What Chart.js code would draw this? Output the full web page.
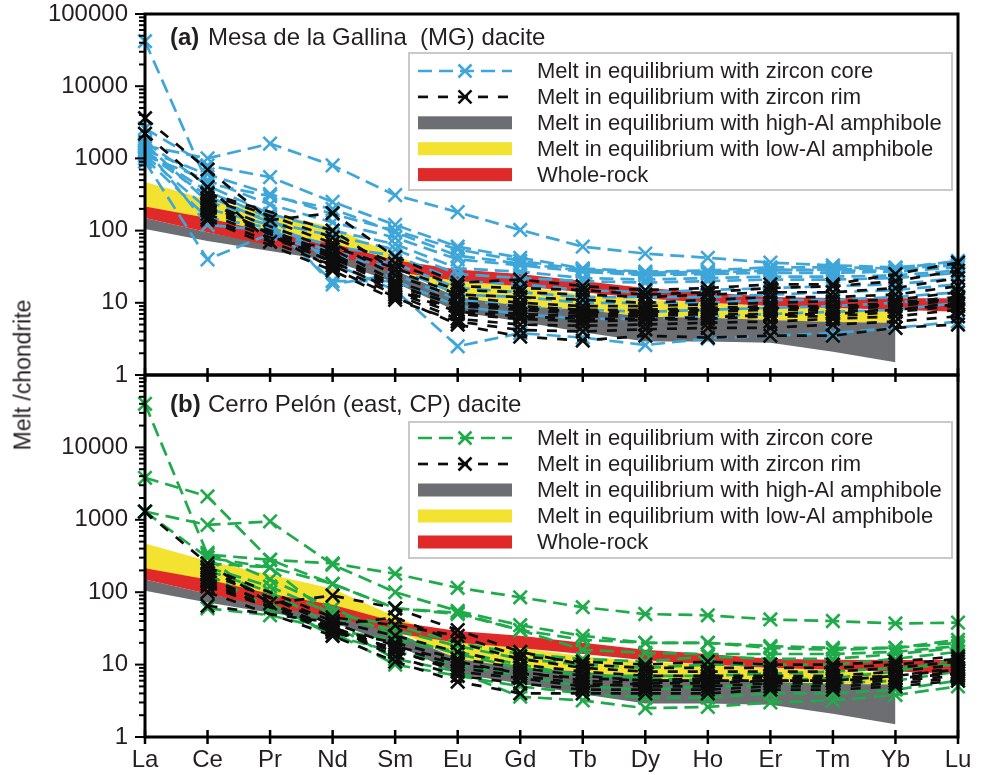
<!DOCTYPE html>
<html>
<head>
<meta charset="utf-8">
<script src="https://cdn.jsdelivr.net/npm/chart.js@4.4.1/dist/chart.umd.min.js"></script>
<style>
  body { margin: 0; background: #fff; }
  #wrap { position: relative; width: 981px; height: 775px; overflow: hidden; }
  #wrap canvas { position: absolute; left: 0; }
  #ytitle {
    position: absolute; left: 23px; top: 375px;
    transform: translate(-50%, -50%) rotate(-90deg);
    font: 23px "Liberation Sans", Arial, sans-serif; color: #231f20; white-space: nowrap;
  }
</style>
</head>
<body>
<div id="wrap">
  <canvas id="chartA" width="981" height="392" style="top:0"></canvas>
  <canvas id="chartB" width="981" height="415" style="top:360px"></canvas>
  <div id="ytitle">Melt /chondrite</div>
</div>
<script>
// REE order along the x axis
const elements = ['La', 'Ce', 'Pr', 'Nd', 'Sm', 'Eu', 'Gd', 'Tb', 'Dy', 'Ho', 'Er', 'Tm', 'Yb', 'Lu'];
const decadeLabelsA = ['1', '10', '100', '1000', '10000', '100000'];
const decadeLabelsB = ['1', '10', '100', '1000', '10000'];

// amphibole / whole-rock envelopes (lower and upper edges)
const grayLo   = [105, 72, 52, 38, 19, 7.5, 5.5, 3.9, 2.9, 2.9, 2.8, 2.1, 1.5, null];
const grayHi   = [150, 95, 65, 47, 28, 12, 9, 8, 6.4, 6.2, 5.8, 5.4, 5.3, null];
const yellowLo = [200, 140, 95, 66, 30, 12, 9, 8, 6.4, 6.2, 5.8, 5.4, 5.3, null];
const yellowHi = [470, 270, 175, 112, 46, 20, 17, 13, 11, 10, 8.8, 8.5, 7.5, null];
const redLo    = [150, 95, 62, 46, 27, 20, 17, 14, 11.5, 10, 9, 8.5, 8, 7.5];
const redHi    = [215, 150, 95, 67, 39, 29, 25, 20, 16, 14, 12, 11.7, 11.6, 11.6];

// (a) MG: melts from zircon cores
const coreA = [
  [42000, 450, 300, 200, 95, 45, 35, 28, 25, 26, 28, 29, 30, 33],
  [1500, 1000, 1600, 800, 310, 180, 102, 60, 48, 42, 36, 33, 31, 36],
  [2600, 800, 550, 250, 120, 60, 42, 30, 27, 28, 31, 31, 30, 38],
  [1300, 600, 320, 170, 100, 55, 38, 29, 26, 27, 29, 28, 28, 34],
  [1100, 500, 230, 130, 80, 40, 33, 27, 24, 25, 26, 26, 27, 31],
  [1700, 420, 170, 100, 65, 30, 27, 22, 21, 22, 23, 23, 24, 28],
  [1200, 300, 130, 85, 55, 25, 22, 20, 19, 20, 21, 21, 22, 26],
  [1000, 150, 110, 60, 45, 20, 18, 15, 14, 15, 16, 17, 18, 22],
  [1400, 120, 100, 50, 35, 16, 14, 12, 12, 12, 13, 14, 15, 18],
  [900, 40, 90, 45, 31, 13, 12, 10, 10, 10, 11, 11, 12, 14],
  [1600, 250, 140, 18, 25, 11, 9, 8, 7.5, 8, 8.5, 9, 10, 12],
  [1100, 200, 120, 20, 20, 9, 7, 6, 6, 6.5, 7, 7.5, 8, 10],
  [1250, 350, 150, 35, 15, 2.5, 3.8, 3.3, 2.6, 3.2, 3.5, 3.8, 4.5, 5.5]
];
// (a) MG: melts from zircon rims
const rimA = [
  [3600, 700, 140, 175, 43, 19, 21, 17, 15, 16, 18, 18, 25, 36],
  [2200, 400, 70, 60, 30, 15, 14, 13, 12, 13, 14, 14, 16, 22],
  [null, 330, null, 100, 28, 13, 12, 11, 10, 11, 12, 12, 13, 17],
  [null, 280, null, 67, 24, 12, 10, 9, 9, 9.5, 10, 10.5, 11, 14],
  [null, 240, null, 55, 20, 10, 9, 8, 8, 8.5, 9, 9, 10, 12],
  [null, 210, null, 48, 18, 9, 8, 7, 7, 7.5, 8, 8, 9, 11],
  [null, 190, null, 42, 16, 8, 7, 6.5, 6.5, 7, 7, 7.5, 8, 10],
  [null, 170, null, 38, 14, 7, 6, 5.5, 5.8, 6, 6.5, 6.5, 7.5, 9],
  [null, 150, null, 33, 13, 6, 5, 4.8, 5, 5.3, 5.5, 6, 6.5, 8],
  [null, 140, null, 28, 11, 5.5, 4.2, 4, 4.3, 4.5, 4.5, 5, 5.5, 6.5],
  [null, 260, null, 30, 12, 5, 3.4, 3, 3.5, 3.3, 3.5, 3.5, 4.5, 5],
  [null, 320, null, 80, 35, 17, 16, 15, 13, 14, 16, 17, 20, 28],
  [null, 230, null, 36, 15, 7.5, 6.5, 6, 6, 6.3, 6.8, 7, 8, 9.5],
  [null, 200, null, 45, 17, 9.5, 8.5, 7.5, 7.5, 8, 8.5, 8.5, 9.5, 11.5]
];

// (b) CP: melts from zircon cores
const coreB = [
  [40000, 330, 280, 130, 60, 50, 30, 22, 20, 20, 17, 16, 17, 22],
  [3800, 2100, 280, 250, 180, 115, 85, 62, 50, 48, 42, 40, 37, 38],
  [1300, 850, 950, 240, 100, 55, 35, 25, 20, 20, 18, 17, 17, 20],
  [1300, 300, 220, 130, 60, 52, 30, 16, 14.5, 14, 14, 14, 15, 18],
  [null, 250, 220, 45, 30, 18, 12, 10, 9, 10, 10, 10, 12, 15],
  [null, 60, 48, 30, 22, 15, 10, 7, 7, 7, 7.5, 8, 9, 10],
  [null, 300, 70, 25, 15, 10, 7, 5, 4.5, 5, 5, 5.5, 6, 8],
  [null, 200, 100, 35, 12, 8, 3.6, 3.2, 2.5, 2.6, 3, 3.2, 3.8, 5],
  [null, 180, 60, 28, 10, 7, 5, 4, 3.5, 3.5, 4, 4, 4.5, 6],
  [null, 350, 150, 60, 25, 14, 9, 7, 6.5, 6, 6, 6.5, 8, 12],
  [null, 220, 120, 50, 35, 20, 14, 12, 11, 13, 12, 12, 14, 17]
];
// (b) CP: melts from zircon rims
const rimB = [
  [1300, 250, 70, 90, 60, 30, 15, 10, 9, 9, 9, 9, 10, 12],
  [null, 200, null, 35, 45, 20, 12, 9, 8, 8, 8, 8, 9, 11],
  [null, 180, null, 40, 25, 15, 10, 8, 7, 7, 7, 7, 8, 10],
  [null, 160, null, 30, 20, 12, 9, 7, 6, 6.5, 6.5, 6.5, 7, 9],
  [null, 140, null, 28, 17, 10, 8, 6, 5.5, 6, 6, 6, 6.5, 8],
  [null, 130, null, 30, 15, 9, 7, 5.5, 5, 5, 5.5, 5.5, 6, 7],
  [null, 120, null, 32, 13, 7, 5.5, 4.5, 4.5, 4.5, 5, 5, 5.5, 6.5],
  [null, 100, null, 25, 11, 5.8, 4, 4, 4, 4, 4.5, 4.5, 5, 6],
  [null, 220, null, 45, 35, 25, 13, 11, 10, 11, 10, 10, 11, 13],
  [null, 65, null, 38, 18, 11, 7.5, 6.5, 6, 6, 6, 6, 7, 8.5],
  [null, 150, null, 33, 16, 8, 6.5, 5, 5.5, 5.5, 6, 6, 6.5, 7.5]
];

const FONT = '"Liberation Sans", Arial, Helvetica, sans-serif';
const INK = '#231f20';
const BLUE = '#3ea6d9';
const GREEN = '#1fab4a';
const BLACK = '#0d0d0d';
const GRAY = '#6d6e71';
const YELLOW = '#f3e22f';
const RED = '#e02a2a';
const CORE_DASH = [14, 7];
const RIM_DASH = [10, 10];
const CLEAR = 'rgba(0,0,0,0)';

function bandSets(lo, hi, color, order) {
  const base = { borderColor: CLEAR, borderWidth: 0, pointRadius: 0, tension: 0, order };
  return [
    Object.assign({ data: lo, fill: false }, base),
    Object.assign({ data: hi, fill: '-1', backgroundColor: color }, base)
  ];
}

function lineSets(rows, color, dash, order) {
  return rows.map(r => ({
    data: r,
    borderColor: color,
    borderWidth: 2.7,
    borderDash: dash,
    pointStyle: 'crossRot',
    pointRadius: 9.5,
    pointBorderColor: color,
    pointBorderWidth: 2.6,
    pointBackgroundColor: color,
    spanGaps: true,
    fill: false,
    tension: 0,
    clip: false,
    order
  }));
}

// frame, log ticks, panel title and legend box
const panelDeco = {
  id: 'panelDeco',
  afterDraw(chart, args, o) {
    const { ctx, chartArea: a } = chart;
    const y = chart.scales.y, x = chart.scales.x;
    ctx.save();
    ctx.strokeStyle = '#000';
    ctx.lineCap = 'butt';
    ctx.lineWidth = 2;
    for (let e = 0; e <= 5; e++) {
      for (let m = 1; m < 10; m++) {
        const v = m * Math.pow(10, e);
        if (v > 100000) break;
        const py = y.getPixelForValue(v);
        const len = m === 1 ? 10 : 6;
        ctx.beginPath();
        ctx.moveTo(a.left - len, py);
        ctx.lineTo(a.left, py);
        ctx.stroke();
      }
    }
    ctx.lineWidth = 2.5;
    for (let i = 0; i < elements.length; i++) {
      const px = x.getPixelForValue(i);
      ctx.beginPath();
      ctx.moveTo(px, a.bottom - 7);
      ctx.lineTo(px, a.bottom + 7);
      ctx.stroke();
    }
    ctx.lineWidth = 3;
    ctx.strokeRect(a.left, a.top, a.right - a.left, a.bottom - a.top);

    // title
    ctx.fillStyle = INK;
    ctx.textBaseline = 'alphabetic';
    ctx.font = 'bold 24px ' + FONT;
    ctx.fillText(o.tag, 170, o.titleY);
    ctx.font = '24px ' + FONT;
    ctx.fillText(o.title, 208, o.titleY);

    // legend
    const L = o.legend;
    ctx.fillStyle = '#fff';
    ctx.fillRect(409, L.top, 543, L.bottom - L.top);
    ctx.strokeStyle = '#c9c9c9';
    ctx.lineWidth = 2;
    ctx.strokeRect(409, L.top, 543, L.bottom - L.top);
    const x0 = 418, x1 = 512, xm = 465;
    const rows = [
      { label: 'Melt in equilibrium with zircon core', kind: 'line', color: o.coreColor, dash: CORE_DASH },
      { label: 'Melt in equilibrium with zircon rim', kind: 'line', color: BLACK, dash: RIM_DASH },
      { label: 'Melt in equilibrium with high-Al amphibole', kind: 'box', color: GRAY },
      { label: 'Melt in equilibrium with low-Al amphibole', kind: 'box', color: YELLOW },
      { label: 'Whole-rock', kind: 'box', color: RED }
    ];
    rows.forEach((r, i) => {
      const cy = L.row0 + i * L.rowH;
      if (r.kind === 'line') {
        ctx.strokeStyle = r.color;
        ctx.lineWidth = 2.7;
        ctx.setLineDash(r.dash);
        ctx.beginPath();
        ctx.moveTo(x0, cy);
        ctx.lineTo(x1, cy);
        ctx.stroke();
        ctx.setLineDash([]);
        ctx.lineWidth = 2.6;
        const s = 6.5;
        ctx.beginPath();
        ctx.moveTo(xm - s, cy - s); ctx.lineTo(xm + s, cy + s);
        ctx.moveTo(xm - s, cy + s); ctx.lineTo(xm + s, cy - s);
        ctx.stroke();
      } else {
        ctx.fillStyle = r.color;
        ctx.fillRect(x0, cy - 6.5, x1 - x0, 13);
      }
      ctx.fillStyle = INK;
      ctx.font = '22px ' + FONT;
      ctx.textBaseline = 'middle';
      ctx.fillText(r.label, 537, cy + 1);
    });
    ctx.restore();
  }
};

function yScale(labels) {
  return {
    type: 'logarithmic',
    min: 1,
    max: 100000,
    // invisible tick marks only push the labels away from the axis
    grid: { display: true, drawOnChartArea: false, drawTicks: true, tickLength: 17, color: CLEAR },
    border: { display: false },
    ticks: {
      autoSkip: false,
      padding: 0,
      color: INK,
      font: { family: FONT, size: 24, lineHeight: 1 },
      callback: v => (labels.includes(String(v)) ? String(v) : '')
    },
    afterFit: s => { s.width = 145; }
  };
}

function makePanel(id, cfg) {
  return new Chart(document.getElementById(id), {
    type: 'line',
    data: {
      labels: elements,
      datasets: [
        ...bandSets(yellowLo, yellowHi, YELLOW, 30),
        ...bandSets(grayLo, grayHi, GRAY, 20),
        ...bandSets(redLo, redHi, RED, 10),
        ...lineSets(cfg.core, cfg.coreColor, CORE_DASH, 5),
        ...lineSets(cfg.rim, BLACK, RIM_DASH, 1)
      ]
    },
    options: {
      responsive: false,
      devicePixelRatio: 1,
      animation: false,
      events: [],
      layout: { padding: cfg.padding },
      plugins: {
        legend: { display: false },
        tooltip: { enabled: false },
        panelDeco: {
          tag: cfg.tag, title: cfg.title, titleY: cfg.titleY,
          legend: cfg.legend, coreColor: cfg.coreColor
        }
      },
      scales: {
        x: {
          type: 'category',
          display: cfg.showX,
          offset: false,
          grid: { display: true, drawOnChartArea: false, drawTicks: true, tickLength: 9, color: CLEAR },
          border: { display: false },
          ticks: { autoSkip: false, maxRotation: 0, padding: 0, color: INK, font: { family: FONT, size: 24 } },
          afterFit: s => { s.height = cfg.showX ? 38 : 0; }
        },
        y: yScale(cfg.yLabels)
      }
    },
    plugins: [panelDeco]
  });
}

makePanel('chartA', {
  core: coreA, rim: rimA, coreColor: BLUE,
  tag: '(a)', title: 'Mesa de la Gallina  (MG) dacite', titleY: 45,
  legend: { top: 53, bottom: 190, row0: 71, rowH: 25.9 },
  padding: { top: 14, right: 23, bottom: 17, left: 0 },
  showX: false, yLabels: decadeLabelsA
});

makePanel('chartB', {
  core: coreB, rim: rimB, coreColor: GREEN,
  tag: '(b)', title: 'Cerro Pelón (east, CP) dacite', titleY: 52,
  legend: { top: 62, bottom: 198, row0: 78, rowH: 26 },
  padding: { top: 15, right: 23, bottom: 0, left: 0 },
  showX: true, yLabels: decadeLabelsB
});
</script>
</body>
</html>
